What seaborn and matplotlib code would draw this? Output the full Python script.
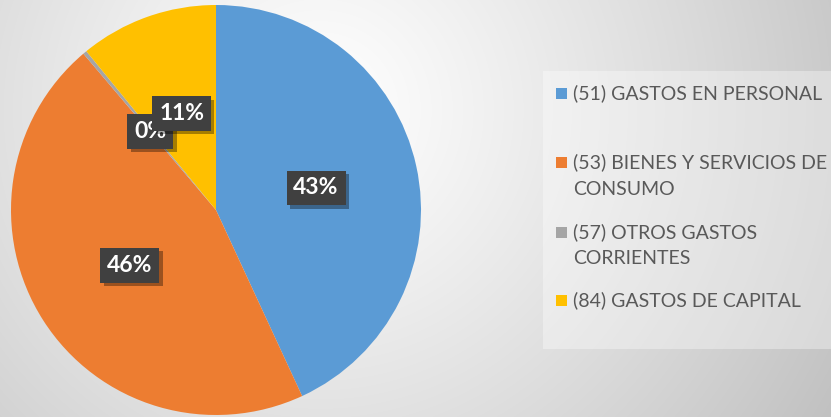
import numpy as np
import matplotlib
matplotlib.use("Agg")
import matplotlib.pyplot as plt
import matplotlib.patheffects as pe
from matplotlib.patches import Rectangle
import seaborn as sns

# ---- data ----
categories = ["(51) GASTOS EN PERSONAL",
              "(53) BIENES Y SERVICIOS DE\nCONSUMO",
              "(57) OTROS GASTOS\nCORRIENTES",
              "(84) GASTOS DE CAPITAL"]
shares = [43.1, 45.7, 0.3, 10.9]
colors = ["#5B9BD5", "#ED7D31", "#A5A5A5", "#FFC000"]

sns.set_theme(style="white")
plt.rcParams['font.family'] = ['Lato', 'DejaVu Sans']

W, H = 831, 417
fig = plt.figure(figsize=(W / 100, H / 100), dpi=100)

# background radial gradient
bg = fig.add_axes([0, 0, 1, 1])
yy, xx = np.mgrid[0:H, 0:W]
d = np.sqrt((xx - 320) ** 2 + (yy - 110) ** 2)
val = 1 - 0.25 * (d / 610) ** 1.15
val = np.clip(val, 0.72, 1)
bg.imshow(np.dstack([val, val, val]), extent=[0, W, H, 0], aspect='auto')
bg.set_xlim(0, W)
bg.set_ylim(H, 0)
bg.axis('off')

# legend box
bg.add_patch(Rectangle((543, 71), W - 543, 278, facecolor='white', alpha=0.35,
                       edgecolor='none'))

# pie
cx, cy, r = 216, 210, 205
ax = fig.add_axes([(cx - r) / W, (H - cy - r) / H, 2 * r / W, 2 * r / H])
wedges, texts, autotexts = ax.pie(
    shares, colors=sns.color_palette(colors), startangle=90, counterclock=False,
    autopct='%.0f%%', pctdistance=0.5, radius=1,
    wedgeprops=dict(linewidth=0),
    textprops=dict(color='white', fontsize=16.5, fontweight='bold'))
ax.set_xlim(-1, 1)
ax.set_ylim(-1, 1)
ax.set_aspect('equal')
ax.axis('off')
for i, t in enumerate(autotexts):
    t.set_bbox(dict(boxstyle='square,pad=0.3', facecolor='#404040',
                    edgecolor='none'))
    t.get_bbox_patch().set_path_effects(
        [pe.SimplePatchShadow(offset=(2.5, -2.5), shadow_rgbFace='black', alpha=0.35),
         pe.Normal()])
    t.set_zorder(5 + i)

# legend (manual, Excel-like)
line_y = [[93], [162.5, 189], [232, 259], [300.5]]
for col, lab, ys in zip(colors, categories, line_y):
    bg.add_patch(Rectangle((556, ys[0] - 5.5), 11, 11, facecolor=col, edgecolor='none'))
    for ln, y in zip(lab.split("\n"), ys):
        bg.text(573, y, ln, color='#595959', fontsize=14, va='center', ha='left')

fig.savefig("out.png", dpi=100)
